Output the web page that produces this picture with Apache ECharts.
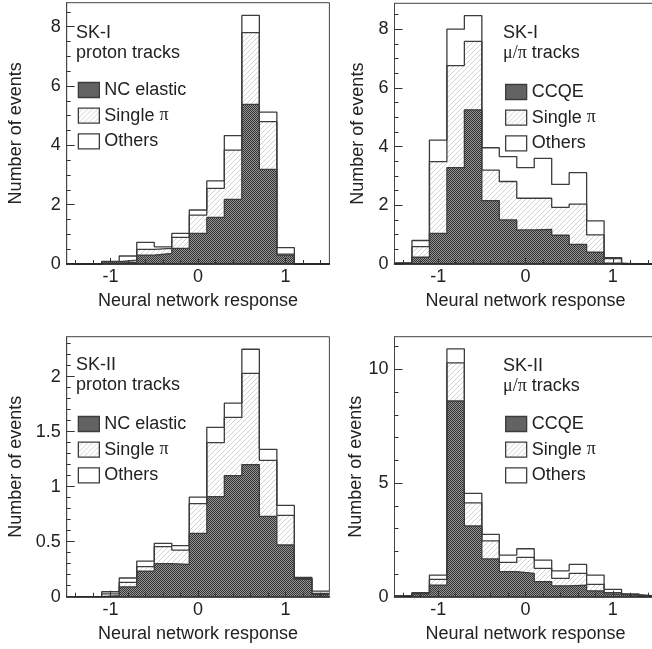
<!DOCTYPE html>
<html>
  <head>
    <meta charset="utf-8" />
    <title>Neural network response</title>
    <script src="https://cdn.jsdelivr.net/npm/echarts@6/dist/echarts.min.js"></script>
    <style>
      html, body { margin: 0; padding: 0; background: #fff; }
    </style>
  </head>
  <body>
    <div id="main" style="width: 652px; height: 649px;"></div>
    <script type="text/javascript">
      // bin edges of the histograms (15 bins of width 0.2)
      var binEdges = [-1.5, -1.3, -1.1, -0.9, -0.7, -0.5, -0.3, -0.1, 0.1, 0.3, 0.5, 0.7, 0.9, 1.1, 1.3, 1.5];

      // SK-I proton tracks
      var skIProtonNC    = [0, 0, 0.08, 0.05, 0.30, 0.36, 0.53, 1.03, 1.57, 2.18, 5.38, 3.19, 0.30, 0, 0];
      var skIProtonPi    = [0, 0, 0, 0.08, 0.19, 0.17, 0.37, 0.62, 0.98, 1.66, 2.42, 1.61, 0.03, 0, 0];
      var skIProtonOther = [0, 0, 0.01, 0.14, 0.24, 0.05, 0.13, 0.17, 0.25, 0.49, 0.58, 0.32, 0.22, 0, 0];

      // SK-I mu/pi tracks
      var skIMuCCQE  = [0.03, 0.23, 1.04, 3.28, 5.25, 2.16, 1.50, 1.16, 1.18, 0.98, 0.67, 0.40, 0.03, 0, 0];
      var skIMuPi    = [0, 0.36, 2.45, 3.48, 2.33, 1.04, 1.31, 1.08, 1.06, 0.95, 1.37, 0.59, 0.15, 0, 0];
      var skIMuOther = [0, 0.21, 0.73, 1.24, 0.88, 0.76, 0.85, 1.04, 1.36, 0.78, 1.07, 0.48, 0.04, 0, 0];

      // SK-II proton tracks
      var skIIProtonNC    = [0, 0, 0.01, 0.09, 0.233, 0.30, 0.294, 0.576, 0.91, 1.10, 1.20, 0.73, 0.47, 0.16, 0.02];
      var skIIProtonPi    = [0, 0, 0.015, 0.04, 0.04, 0.155, 0.13, 0.27, 0.49, 0.53, 0.83, 0.51, 0.27, 0.005, 0.01];
      var skIIProtonOther = [0, 0, 0.02, 0.04, 0.05, 0.03, 0.04, 0.06, 0.14, 0.13, 0.22, 0.10, 0.09, 0.01, 0.02];

      // SK-II mu/pi tracks
      var skIIMuCCQE  = [0.03, 0.12, 0.51, 8.61, 3.11, 1.66, 1.10, 1.03, 0.66, 0.48, 0.51, 0.26, 0.12, 0.07, 0.03];
      var skIIMuPi    = [0, 0.03, 0.25, 1.68, 1.02, 0.80, 0.41, 0.70, 0.59, 0.33, 0.52, 0.28, 0.06, 0.02, 0];
      var skIIMuOther = [0, 0.03, 0.19, 0.61, 0.42, 0.28, 0.32, 0.38, 0.36, 0.33, 0.39, 0.41, 0.14, 0.03, 0];

      // tick labels
      var xTickLabels = [-1, 0, 1];
      var xMinorTicks = [-1.4, -1.2, -0.8, -0.6, -0.4, -0.2, 0.2, 0.4, 0.6, 0.8, 1.2, 1.4];
      var yTicksSKI = [0, 2, 4, 6, 8];
      var yMinorSKI = [0.5, 1, 1.5, 2.5, 3, 3.5, 4.5, 5, 5.5, 6.5, 7, 7.5, 8.5];
      var yTicksSKIIProton = [0, 0.5, 1, 1.5, 2];
      var yMinorSKIIProton = [0.1, 0.2, 0.3, 0.4, 0.6, 0.7, 0.8, 0.9, 1.1, 1.2, 1.3, 1.4, 1.6, 1.7, 1.8, 1.9, 2.1, 2.2, 2.3];
      var yTicksSKIIMu = [0, 5, 10];
      var yMinorSKIIMu = [1, 2, 3, 4, 6, 7, 8, 9, 11];

      var FONT = 'Liberation Sans, Arial, Helvetica, sans-serif';
      var SERIF = 'Liberation Serif, DejaVu Serif, serif';
      var INK = '#222';
      var EDGE = '#3c3c3c';

      function makePattern(size, painter) {
        var c = document.createElement('canvas');
        c.width = size; c.height = size;
        var ctx = c.getContext('2d');
        painter(ctx, size);
        return { image: c, repeat: 'repeat' };
      }
      // dark cross-hatched fill
      var darkFill = makePattern(2, function (ctx) {
        ctx.fillStyle = '#949494'; ctx.fillRect(0, 0, 2, 2);
        ctx.fillStyle = '#333333'; ctx.fillRect(0, 0, 1, 1); ctx.fillRect(1, 1, 1, 1);
      });
      // light diagonal hatch
      var hatchFill = makePattern(5, function (ctx, n) {
        ctx.fillStyle = '#fff'; ctx.fillRect(0, 0, n, n);
        ctx.fillStyle = '#d2d2d2';
        for (var x = 0; x < n; x++) ctx.fillRect(x, n - 1 - x, 1, 1);
      });

      var panels = [
        { nc: skIProtonNC, pi: skIProtonPi, oth: skIProtonOther, first: 'NC elastic',
          label: '{n|SK-I}\n{n|proton tracks}', yMax: 8.81, yTicks: yTicksSKI, yMinor: yMinorSKI },
        { nc: skIMuCCQE, pi: skIMuPi, oth: skIMuOther, first: 'CCQE',
          label: '{n|SK-I}\n{g|\u03bc/\u03c0}{n| tracks}', yMax: 8.88, yTicks: yTicksSKI, yMinor: yMinorSKI },
        { nc: skIIProtonNC, pi: skIIProtonPi, oth: skIIProtonOther, first: 'NC elastic',
          label: '{n|SK-II}\n{n|proton tracks}', yMax: 2.364, yTicks: yTicksSKIIProton, yMinor: yMinorSKIIProton },
        { nc: skIIMuCCQE, pi: skIIMuPi, oth: skIIMuOther, first: 'CCQE',
          label: '{n|SK-II}\n{g|\u03bc/\u03c0}{n| tracks}', yMax: 11.44, yTicks: yTicksSKIIMu, yMinor: yMinorSKIIMu }
      ];

      var layout = [
        { left: 66.7, top: 2.7, width: 262.7, height: 261.3, nameGap: 42, textLeft: 76, textTop: 23, legLeft: 77.7, legTop: 81 },
        { left: 394.5, top: 3.3, width: 262, height: 260.7, nameGap: 27, textLeft: 503, textTop: 23, legLeft: 505, legTop: 83 },
        { left: 66.7, top: 336.7, width: 262.7, height: 260, nameGap: 42, textLeft: 76, textTop: 355, legLeft: 77.7, legTop: 415 },
        { left: 394.5, top: 336.7, width: 262, height: 260, nameGap: 27, textLeft: 503, textTop: 356, legLeft: 505, legTop: 415 }
      ];

      function steps(vals) {
        return binEdges.map(function (e, i) {
          return [e, vals[Math.min(i, vals.length - 1)]];
        });
      }

      var grids = [], xAxes = [], yAxes = [], series = [], titles = [], legends = [];

      panels.forEach(function (p, i) {
        var l = layout[i];
        grids.push({
          left: l.left, top: l.top, width: l.width, height: l.height,
          show: true, borderColor: '#444', borderWidth: 1, containLabel: false, outerBoundsMode: 'none'
        });

        xAxes.push({
          gridIndex: i, type: 'value', min: -1.5, max: 1.5, z: 5, position: 'bottom',
          name: 'Neural network response', nameLocation: 'middle', nameGap: 28,
          nameTextStyle: { fontSize: 18, color: INK, fontFamily: FONT },
          axisLine: { show: true, onZero: false, lineStyle: { color: '#222', width: 1.6 } },
          axisTick: { show: true, inside: true, length: 6, customValues: xTickLabels, lineStyle: { color: '#333' } },
          axisLabel: { show: true, margin: 4, fontSize: 18, color: INK, fontFamily: FONT, customValues: xTickLabels },
          splitLine: { show: false }
        });
        xAxes.push({
          gridIndex: i, type: 'value', min: -1.5, max: 1.5, z: 5, position: 'bottom', offset: 0,
          axisLine: { show: false, onZero: false },
          axisTick: { show: true, inside: true, length: 4, customValues: xMinorTicks, lineStyle: { color: '#333' } },
          axisLabel: { show: false },
          splitLine: { show: false }
        });

        yAxes.push({
          gridIndex: i, type: 'value', min: 0, max: p.yMax, position: 'left', z: 5,
          name: 'Number of events', nameLocation: 'middle', nameRotate: 90, nameGap: l.nameGap,
          nameTextStyle: { fontSize: 18, color: INK, fontFamily: FONT },
          axisLine: { show: true, onZero: false, lineStyle: { color: '#444', width: 1 } },
          axisTick: { show: true, inside: true, length: 8, customValues: p.yTicks, lineStyle: { color: '#333' } },
          axisLabel: { show: true, margin: 6, fontSize: 18, color: INK, fontFamily: FONT, customValues: p.yTicks },
          splitLine: { show: false }
        });
        yAxes.push({
          gridIndex: i, type: 'value', min: 0, max: p.yMax, position: 'left', offset: 0, z: 5,
          axisLine: { show: false, onZero: false },
          axisTick: { show: true, inside: true, length: 4, customValues: p.yMinor, lineStyle: { color: '#333' } },
          axisLabel: { show: false },
          splitLine: { show: false }
        });

        var mid = p.nc.map(function (v, k) { return v + p.pi[k]; });
        var total = mid.map(function (v, k) { return v + p.oth[k]; });
        var layers = [
          { name: 'Others', vals: total, fill: '#ffffff' },
          { name: 'Single \u03c0', vals: mid, fill: hatchFill },
          { name: p.first, vals: p.nc, fill: darkFill }
        ];
        layers.forEach(function (s) {
          series.push({
            type: 'line', name: s.name, xAxisIndex: 2 * i, yAxisIndex: 2 * i,
            step: 'end', data: steps(s.vals), symbol: 'none', silent: true,
            lineStyle: { color: EDGE, width: 1.3 },
            itemStyle: { color: EDGE },
            areaStyle: { color: s.fill, opacity: 1 }
          });
        });

        titles.push({
          text: p.label, left: l.textLeft, top: l.textTop, padding: 0,
          textStyle: {
            fontWeight: 'normal',
            rich: {
              n: { fontSize: 18, color: INK, fontFamily: FONT, fontWeight: 'normal', lineHeight: 20 },
              g: { fontSize: 18, color: INK, fontFamily: SERIF, fontWeight: 'normal', lineHeight: 20 }
            }
          }
        });

        legends.push({
          orient: 'vertical', left: l.legLeft, top: l.legTop, padding: 0,
          itemWidth: 21, itemHeight: 15, itemGap: 7.7, selectedMode: false,
          formatter: function (name) { return name.replace('\u03c0', '{g|\u03c0}'); },
          textStyle: {
            fontSize: 18, color: INK, fontFamily: FONT, lineHeight: 15,
            rich: { g: { fontSize: 18, color: INK, fontFamily: SERIF, lineHeight: 15 } }
          },
          data: [
            { name: p.first, icon: 'rect', itemStyle: { color: darkFill, borderColor: EDGE, borderWidth: 1.3 } },
            { name: 'Single \u03c0', icon: 'rect', itemStyle: { color: hatchFill, borderColor: EDGE, borderWidth: 1.3 } },
            { name: 'Others', icon: 'rect', itemStyle: { color: '#ffffff', borderColor: EDGE, borderWidth: 1.3 } }
          ]
        });
      });

      var myChart = echarts.init(document.getElementById('main'), null, { renderer: 'canvas' });
      myChart.setOption({
        animation: false,
        backgroundColor: '#fff',
        title: titles,
        legend: legends,
        grid: grids,
        xAxis: xAxes,
        yAxis: yAxes,
        series: series
      });
    </script>
  </body>
</html>
